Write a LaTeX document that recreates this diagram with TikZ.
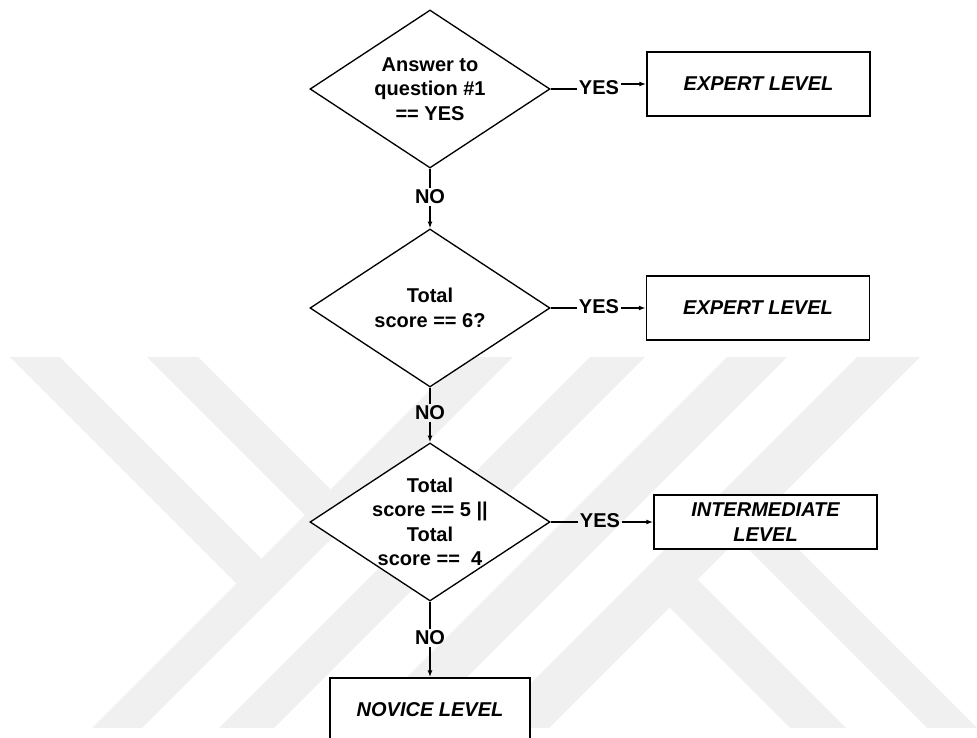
\documentclass[tikz,border=0pt]{standalone}
\usepackage{fontspec}
\setmainfont{Liberation Sans}
\usetikzlibrary{shapes.geometric,arrows.meta}

\begin{document}
\begin{tikzpicture}[x=0.75pt,y=-0.75pt,
    decision/.style={diamond,draw,line width=1pt,fill=white,minimum width=180pt,minimum height=118.5pt,inner sep=0pt},
    qtext/.style={align=center,inner sep=0pt,font=\fontsize{15}{18.4}\selectfont\bfseries},
    level/.style={rectangle,draw,line width=1.3pt,fill=white,minimum width=167.25pt,minimum height=48pt,align=center,font=\fontsize{15}{18.8}\selectfont\bfseries\itshape},
    answer/.style={inner sep=1.5pt,font=\fontsize{15}{18}\selectfont\bfseries},
    arr/.style={-{Latex[length=5pt,width=3.6pt]}},
    wmark/.style={fill=black!6}]
      \useasboundingbox (0,0) rectangle (977,738);

      \begin{scope}
        \clip (0,357) rectangle (977,727);
        \foreach \a/\b in {820/870,947/1002,1084/1144,1214/1277}
          \fill[wmark] ({\a-357},357) -- ({\b-357},357) -- ({\b-740},740) -- ({\a-740},740) -- cycle;
        \fill[wmark] (10,357) -- (60,357) -- (261.5,558.5) -- (236.5,583.5) -- cycle;
        \fill[wmark] (147,357) -- (198,357) -- (330.5,489.5) -- (305,515) -- cycle;
        \fill[wmark] (669.5,607.5) -- (697.5,579.5) -- (858,740) -- (802,740) -- cycle;
        \fill[wmark] (738,539) -- (763,514) -- (989,740) -- (939,740) -- cycle;
      \end{scope}

      \node(Q1)[decision] at (430,89) {};
      \node(TQ1)[qtext] at (Q1) {Answer to\\question \#1\\== YES};

      \node(Q2)[decision] at (430,308) {};
      \node(TQ2)[qtext] at (Q2) {Total\\score == 6?};

      \node(Q3)[decision] at (430,522) {};
      \node(TQ3)[qtext] at (Q3) {Total\\score == 5 ||\\Total\\score ==\ \ 4};

      \node(EX1)[level] at (758.5,84) {EXPERT LEVEL};
      \node(EX2)[level] at (758,308) {EXPERT LEVEL};
      \node(INT)[level,minimum height=40.5pt] at (765.5,522) {INTERMEDIATE\\LEVEL};
      \node(NOV)[level,minimum width=150pt] at (430,710) {NOVICE LEVEL};

      \node(Y1)[answer] at (599,88) {YES};
      \node(Y2)[answer] at (599,307) {YES};
      \node(Y3)[answer] at (600,521) {YES};

      \node(NO1)[answer] at (430,197) {NO};
      \node(NO2)[answer] at (430,413) {NO};
      \node(NO3)[answer] at (430,638) {NO};

      \draw[line width=0.9pt] (Q1.east) -- (Y1.west |- Q1.east);
      \draw[line width=0.9pt,arr] (Y1.east |- EX1.west) -- (EX1.west);
      \draw[line width=0.9pt] (Q2.east) -- (Y2.west |- Q2.east);
      \draw[line width=0.9pt,arr] (Y2.east |- EX2.west) -- (EX2.west);
      \draw[line width=0.9pt] (Q3.east) -- (Y3.west |- Q3.east);
      \draw[line width=0.9pt,arr] (Y3.east |- INT.west) -- (INT.west);

      \draw[line width=0.9pt] (Q1.south) -- (NO1.north);
      \draw[line width=0.9pt,arr] (NO1.south) -- (Q2.north);
      \draw[line width=0.9pt] (Q2.south) -- (NO2.north);
      \draw[line width=0.9pt,arr] (NO2.south) -- (Q3.north);
      \draw[line width=0.9pt] (Q3.south) -- (NO3.north);
      \draw[line width=0.9pt,arr] (NO3.south) -- (NOV.north);
\end{tikzpicture}
\end{document}
